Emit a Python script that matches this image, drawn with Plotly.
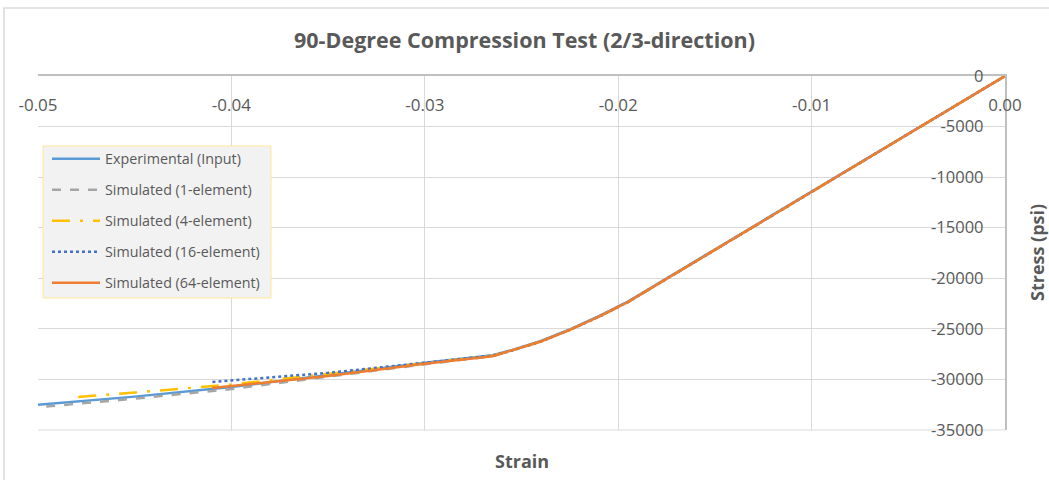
import plotly.graph_objects as go

# Data
exp_strain = [0, -0.005, -0.01, -0.015, -0.0195, -0.021, -0.0225, -0.024, -0.0255, -0.0265,
              -0.03, -0.035, -0.04, -0.045, -0.05]
exp_stress = [0, -5700, -11450, -17100, -22300, -23750, -25050, -26200, -27100, -27600,
              -28350, -29550, -30750, -31700, -32500]

sim1_strain = [0, -0.005, -0.01, -0.015, -0.0195, -0.021, -0.0225, -0.024, -0.0255, -0.0265,
               -0.03, -0.035, -0.04, -0.045, -0.05]
sim1_stress = [0, -5720, -11480, -17150, -22350, -23800, -25100, -26250, -27150, -27700,
               -28500, -29700, -30950, -31900, -32750]

sim4_strain = [0, -0.005, -0.01, -0.015, -0.0195, -0.021, -0.0225, -0.024, -0.0255, -0.0265,
               -0.03, -0.035, -0.04, -0.045, -0.048]
sim4_stress = [0, -5720, -11480, -17150, -22350, -23800, -25100, -26250, -27150, -27650,
               -28400, -29450, -30500, -31300, -31750]

sim16_strain = [0, -0.005, -0.01, -0.015, -0.0195, -0.021, -0.0225, -0.024, -0.0255, -0.0265,
                -0.03, -0.035, -0.041]
sim16_stress = [0, -5720, -11480, -17150, -22350, -23800, -25100, -26250, -27150, -27650,
                -28350, -29350, -30250]

sim64_strain = [0, -0.005, -0.01, -0.015, -0.0195, -0.021, -0.0225, -0.024, -0.0255, -0.0265,
                -0.03, -0.035, -0.041]
sim64_stress = [0, -5720, -11480, -17150, -22350, -23800, -25100, -26250, -27150, -27700,
                -28450, -29650, -30850]

x_ticks = [-0.05, -0.04, -0.03, -0.02, -0.01, 0.0]
x_tick_text = ["-0.05", "-0.04", "-0.03", "-0.02", "-0.01", "0.00"]
y_ticks = [0, -5000, -10000, -15000, -20000, -25000, -30000, -35000]
y_tick_text = ["0", "-5000", "-10000", "-15000", "-20000", "-25000", "-30000", "-35000"]

series = [
    ("Experimental (Input)", exp_strain, exp_stress, "#5b9bd5", "solid"),
    ("Simulated (1-element)", sim1_strain, sim1_stress, "#a5a5a5", "dash"),
    ("Simulated (4-element)", sim4_strain, sim4_stress, "#ffc000", "18px,10px,3px,10px"),
    ("Simulated (16-element)", sim16_strain, sim16_stress, "#4472c4", "dot"),
    ("Simulated (64-element)", sim64_strain, sim64_stress, "#ed7d31", "solid"),
]

FONT = "Open Sans, Lato, sans-serif"
TXT = "#595959"

W, H = 1049, 480
L, R, T, B = 38, 44, 76, 50
pw = W - L - R
ph = H - T - B


def px(xp):
    return (xp - L) / pw


def py(yp):
    return 1 - (yp - T) / ph


legend_names = ["legend", "legend2", "legend3", "legend4", "legend5"]
legend_rows = [159, 190, 221, 252, 283]

fig = go.Figure()
for (name, xs, ys, color, dash), lg in zip(series, legend_names):
    fig.add_trace(go.Scatter(x=xs, y=ys, mode="lines", name=name, legend=lg,
                             line=dict(color=color, width=2.5, dash=dash)))

layout_legends = {}
for lg, row in zip(legend_names, legend_rows):
    layout_legends[lg] = dict(x=px(47), y=py(row), xanchor="left", yanchor="middle",
                              bgcolor="rgba(0,0,0,0)", borderwidth=0,
                              font=dict(size=14.3, color=TXT, family=FONT),
                              itemwidth=48, tracegroupgap=0)

fig.update_layout(
    width=W, height=H,
    margin=dict(l=L, r=R, t=T, b=B),
    paper_bgcolor="white", plot_bgcolor="white",
    font=dict(family=FONT, color=TXT),
    title=dict(text="<b>90-Degree Compression Test (2/3-direction)</b>",
               x=0.5, xanchor="center", y=1 - 40 / H, yanchor="middle",
               font=dict(size=21.5, color=TXT)),
    showlegend=True,
    xaxis=dict(range=[-0.05, 0], side="top", tickvals=x_ticks, ticktext=x_tick_text,
               ticklabelposition="inside", ticklabeloverflow="allow", ticklabelstandoff=24,
               tickfont=dict(size=17, color=TXT),
               showgrid=True, gridcolor="#d9d9d9", gridwidth=1,
               zeroline=False, showline=True, linecolor="#bfbfbf", linewidth=1.5,
               ticks=""),
    yaxis=dict(range=[-35000, 0], side="right", tickvals=y_ticks, ticktext=y_tick_text,
               ticklabelposition="inside", ticklabeloverflow="allow", ticklabelstandoff=22,
               tickfont=dict(size=16.5, color=TXT),
               showgrid=True, gridcolor="#d9d9d9", gridwidth=1,
               zeroline=False, showline=True, linecolor="#bfbfbf", linewidth=1.5,
               ticks=""),
    annotations=[
        dict(text="<b>Strain</b>", xref="paper", yref="paper",
             x=px(522), y=py(461),
             showarrow=False, xanchor="center", yanchor="middle",
             font=dict(size=18, color=TXT)),
        dict(text="<b>Stress (psi)</b>", xref="paper", yref="paper",
             x=px(1037), y=py(253), textangle=-90,
             showarrow=False, xanchor="center", yanchor="middle",
             font=dict(size=18, color=TXT)),
    ],
    shapes=[
        dict(type="rect", xref="paper", yref="paper",
             x0=px(4), x1=px(1070), y0=py(500), y1=py(8),
             line=dict(color="#d9d9d9", width=1.5), fillcolor="rgba(0,0,0,0)",
             layer="below"),
        dict(type="line", xref="paper", yref="paper", x0=0, x1=1, y0=0, y1=0,
             line=dict(color="#d9d9d9", width=1), layer="below"),
        dict(type="rect", xref="paper", yref="paper",
             x0=px(43), x1=px(271), y0=py(298), y1=py(146),
             line=dict(color="#ffe699", width=1), fillcolor="#f2f2f2",
             layer="above"),
    ],
    **layout_legends,
)

fig.write_html("out.html", config={"displayModeBar": False},
               post_script="document.body.style.margin='0px';")
